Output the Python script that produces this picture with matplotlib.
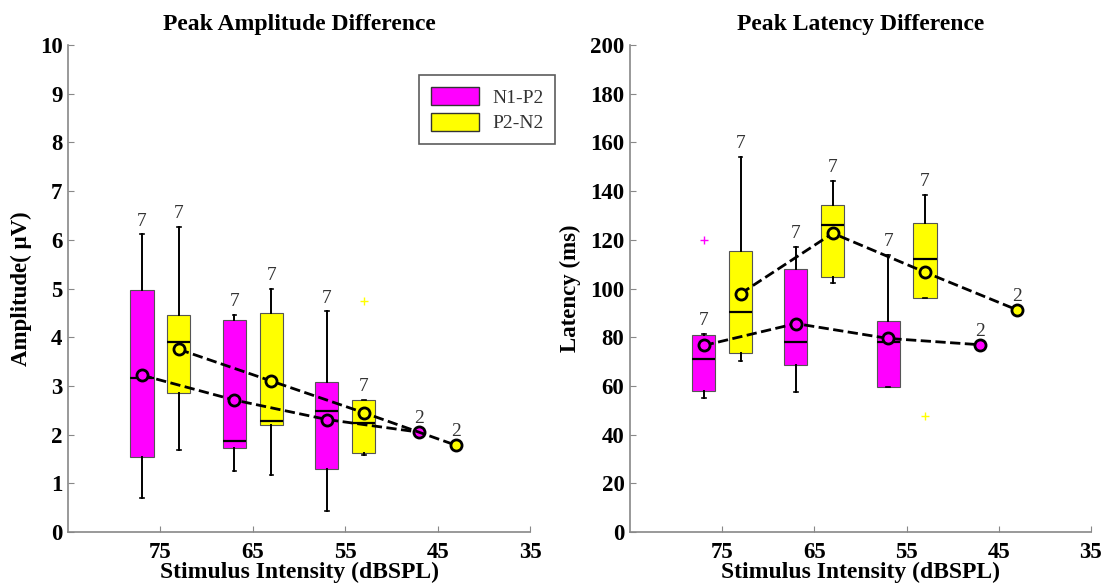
import matplotlib
matplotlib.use("Agg")
import matplotlib.pyplot as plt
from matplotlib.patches import Patch

plt.rcParams['font.family'] = ['Liberation Serif', 'DejaVu Serif']

# positions (dB SPL) of boxes / means
pos_a = [77, 67, 57, 47]      # N1-P2
pos_b = [73, 63, 53, 43]      # P2-N2
n_a = [7, 7, 7, 2]
n_b = [7, 7, 7, 2]

# amplitude (uV) box stats: q1, med, q3, whislo, whishi
amp_a_q1 = [1.53, 1.72, 1.29]
amp_a_med = [3.17, 1.87, 2.49]
amp_a_q3 = [4.97, 4.35, 3.08]
amp_a_lo = [0.69, 1.25, 0.44]
amp_a_hi = [6.11, 4.45, 4.53]
amp_a_fl = [[], [], []]
amp_a_mean = [3.22, 2.71, 2.31, 2.05]

amp_b_q1 = [2.85, 2.19, 1.63]
amp_b_med = [3.90, 2.28, 2.23]
amp_b_q3 = [4.46, 4.50, 2.71]
amp_b_lo = [1.68, 1.18, 1.58]
amp_b_hi = [6.27, 5.00, 2.71]
amp_b_fl = [[], [], [4.74]]
amp_b_mean = [3.75, 3.10, 2.45, 1.78]

# latency (ms)
lat_a_q1 = [58.1, 68.6, 59.6]
lat_a_med = [71.2, 78.1, 77.9]
lat_a_q3 = [81.0, 107.9, 86.8]
lat_a_lo = [55.2, 57.3, 59.5]
lat_a_hi = [81.5, 117.2, 113.8]
lat_a_fl = [[119.8], [], []]
lat_a_mean = [76.6, 85.6, 79.5, 76.9]

lat_b_q1 = [73.7, 104.8, 96.3]
lat_b_med = [90.3, 125.9, 112.3]
lat_b_q3 = [115.4, 134.2, 126.8]
lat_b_lo = [70.3, 102.2, 96.3]
lat_b_hi = [154.1, 144.1, 138.4]
lat_b_fl = [[], [], [47.5]]
lat_b_mean = [97.9, 122.7, 106.7, 91.2]

MAG = '#ff00ff'
YEL = '#ffff00'


def stats(q1, med, q3, lo, hi, fl):
    out = []
    for i in range(len(q1)):
        out.append(dict(q1=q1[i], med=med[i], q3=q3[i], whislo=lo[i],
                        whishi=hi[i], fliers=fl[i]))
    return out


def draw_group(ax, pos, st, means, ns, color, off):
    ax.bxp(st, positions=pos[:len(st)], widths=2.5, patch_artist=True,
           showfliers=True, manage_ticks=False,
           boxprops=dict(facecolor=color, edgecolor='#555555', linewidth=0.8),
           medianprops=dict(color='black', linewidth=1.6),
           whiskerprops=dict(color='black', linewidth=1.4),
           capprops=dict(color='black', linewidth=1.2), capwidths=0.4,
           flierprops=dict(marker='+', markeredgecolor=color, markersize=6,
                           linestyle='none'))
    ax.plot(pos, means, linestyle='--', color='black', linewidth=2,
            marker='o', markersize=8, markerfacecolor=color,
            markeredgecolor='black', markeredgewidth=2, zorder=5)
    for i in range(len(pos)):
        if i < len(st):
            top = st[i]['whishi']
        else:
            top = means[i]
        ax.text(pos[i], top + off, str(ns[i]), ha='center', va='bottom',
                fontsize=14, color='#333333')


def style(ax, ymax, ystep, ylabel, title, ylab_x):
    ax.set_xlim(85, 35)
    ax.set_ylim(0, ymax)
    ax.set_xticks([75, 65, 55, 45, 35])
    ax.set_yticks(range(0, ymax + 1, ystep))
    ax.spines['top'].set_visible(False)
    ax.spines['right'].set_visible(False)
    for s in ['left', 'bottom']:
        ax.spines[s].set_color('#888888')
        ax.spines[s].set_linewidth(1.2)
    ax.tick_params(direction='in', length=4, color='#888888', labelsize=16.5)
    ax.tick_params(axis='y', pad=4)
    ax.tick_params(axis='x', pad=7)
    for lab in ax.get_xticklabels() + ax.get_yticklabels():
        lab.set_fontweight('bold')
    ax.set_xlabel('Stimulus Intensity (dBSPL)', fontsize=17,
                  fontweight='bold', labelpad=-1)
    ax.set_ylabel(ylabel, fontsize=16.5, fontweight='bold')
    ax.yaxis.set_label_coords(ylab_x, 0.5)
    ax.set_title(title, fontsize=17, fontweight='bold', pad=11)


fig = plt.figure(figsize=(11.12, 5.87), dpi=100)
ax1 = fig.add_axes([0.0612, 0.0937, 0.4155, 0.8296])
ax2 = fig.add_axes([0.5665, 0.0937, 0.4146, 0.8296])

draw_group(ax1, pos_a, stats(amp_a_q1, amp_a_med, amp_a_q3, amp_a_lo, amp_a_hi, amp_a_fl),
           amp_a_mean, n_a, MAG, 0.1)
draw_group(ax1, pos_b, stats(amp_b_q1, amp_b_med, amp_b_q3, amp_b_lo, amp_b_hi, amp_b_fl),
           amp_b_mean, n_b, YEL, 0.1)
style(ax1, 10, 1, 'Amplitude( \u03bcV)', 'Peak Amplitude Difference', -0.078)

draw_group(ax2, pos_a, stats(lat_a_q1, lat_a_med, lat_a_q3, lat_a_lo, lat_a_hi, lat_a_fl),
           lat_a_mean, n_a, MAG, 2.0)
draw_group(ax2, pos_b, stats(lat_b_q1, lat_b_med, lat_b_q3, lat_b_lo, lat_b_hi, lat_b_fl),
           lat_b_mean, n_b, YEL, 2.0)
style(ax2, 200, 20, 'Latency (ms)', 'Peak Latency Difference', -0.106)

handles = [Patch(facecolor=MAG, edgecolor='#333333', label='N1-P2'),
           Patch(facecolor=YEL, edgecolor='#333333', label='P2-N2')]
leg = ax1.legend(handles=handles, loc='upper left', bbox_to_anchor=(0.760, 0.938),
                 borderaxespad=0, fontsize=14, frameon=True, fancybox=False,
                 edgecolor='#333333', handlelength=2.47, handleheight=1.08,
                 handletextpad=0.67, borderpad=0.6, labelspacing=0.3)
leg.get_frame().set_linewidth(1.2)
for t in leg.get_texts():
    t.set_color('#333333')

fig.savefig('out.png', dpi=100)
